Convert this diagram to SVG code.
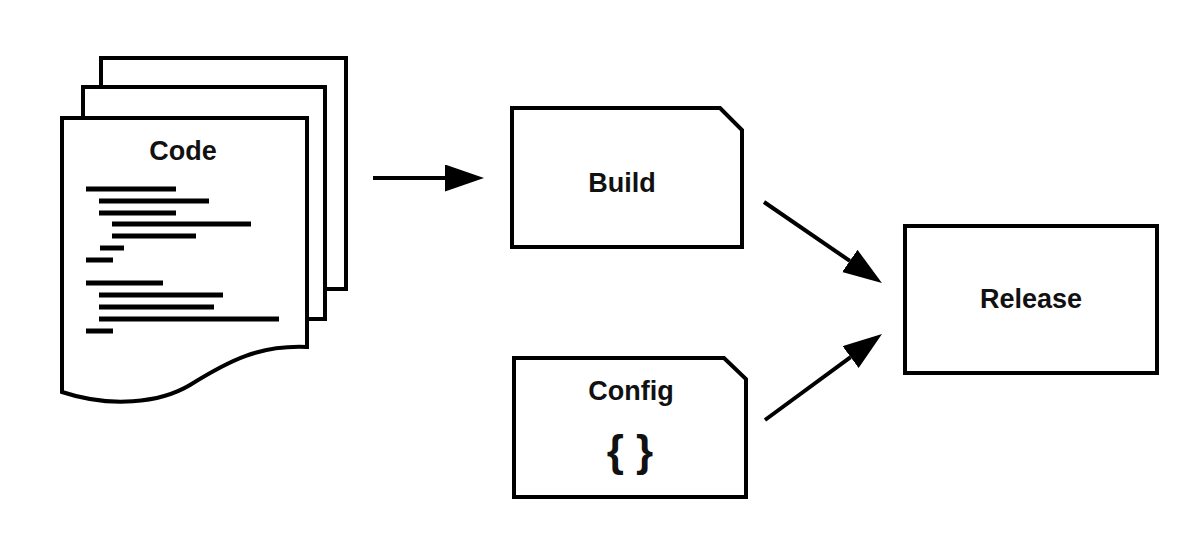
<svg xmlns="http://www.w3.org/2000/svg" width="1204" height="550" viewBox="0 0 1204 550">
  <style>
    .shape { fill: #ffffff; stroke: #000000; stroke-width: 4; stroke-linejoin: miter; }
    .label { font-family: "Liberation Sans", Arial, sans-serif; font-weight: bold; font-size: 27px; fill: #111111; text-anchor: middle; }
    .code line { stroke: #000000; stroke-width: 5; }
    .conn { fill: none; stroke: #000000; stroke-width: 4; }
  </style>
  <defs>
    <marker id="head" markerUnits="userSpaceOnUse" markerWidth="40" markerHeight="28" refX="0" refY="13.5" orient="auto" viewBox="0 0 40 28">
      <path d="M0,0 L39,13.5 L0,27 Z" fill="#000000"/>
    </marker>
  </defs>
  <rect width="1204" height="550" fill="#ffffff"/>

  <g id="code">
    <rect class="shape" x="101" y="58" width="245" height="231"/>
    <rect class="shape" x="83" y="87" width="242" height="232"/>
    <path class="shape" d="M62,118 L307,118 L307,347 C260,345 230,360 190,385 C160,403 110,408 62,392 Z"/>
    <text class="label" x="183" y="160">Code</text>
    <g class="code">
      <line x1="86" y1="189" x2="176" y2="189"/>
      <line x1="99" y1="201" x2="209" y2="201"/>
      <line x1="99" y1="213" x2="176" y2="213"/>
      <line x1="112" y1="224" x2="251" y2="224"/>
      <line x1="112" y1="236" x2="196" y2="236"/>
      <line x1="100" y1="248" x2="124" y2="248"/>
      <line x1="86" y1="260" x2="113" y2="260"/>
      <line x1="86" y1="283" x2="163" y2="283"/>
      <line x1="99" y1="295" x2="223" y2="295"/>
      <line x1="99" y1="307" x2="214" y2="307"/>
      <line x1="99" y1="319" x2="279" y2="319"/>
      <line x1="86" y1="331" x2="113" y2="331"/>
    </g>
  </g>

  <g id="build">
    <path class="shape" d="M512,108 L720,108 L742,130 L742,247 L512,247 Z"/>
    <text class="label" x="622" y="192">Build</text>
  </g>

  <g id="config">
    <path class="shape" d="M514,358 L724,358 L746,379 L746,497 L514,497 Z"/>
    <text class="label" x="631" y="400">Config</text>
    <text class="label" x="630" y="466" style="font-size:44px">{ }</text>
  </g>

  <g id="release">
    <rect class="shape" x="905" y="226" width="252" height="147"/>
    <text class="label" x="1031" y="308">Release</text>
  </g>

  <g id="connectors">
    <path class="conn" d="M373,178 L445,178" marker-end="url(#head)"/>
    <path class="conn" d="M764,202 L849.8,260.9" marker-end="url(#head)"/>
    <path class="conn" d="M765,420 L850.6,357.1" marker-end="url(#head)"/>
  </g>
</svg>
